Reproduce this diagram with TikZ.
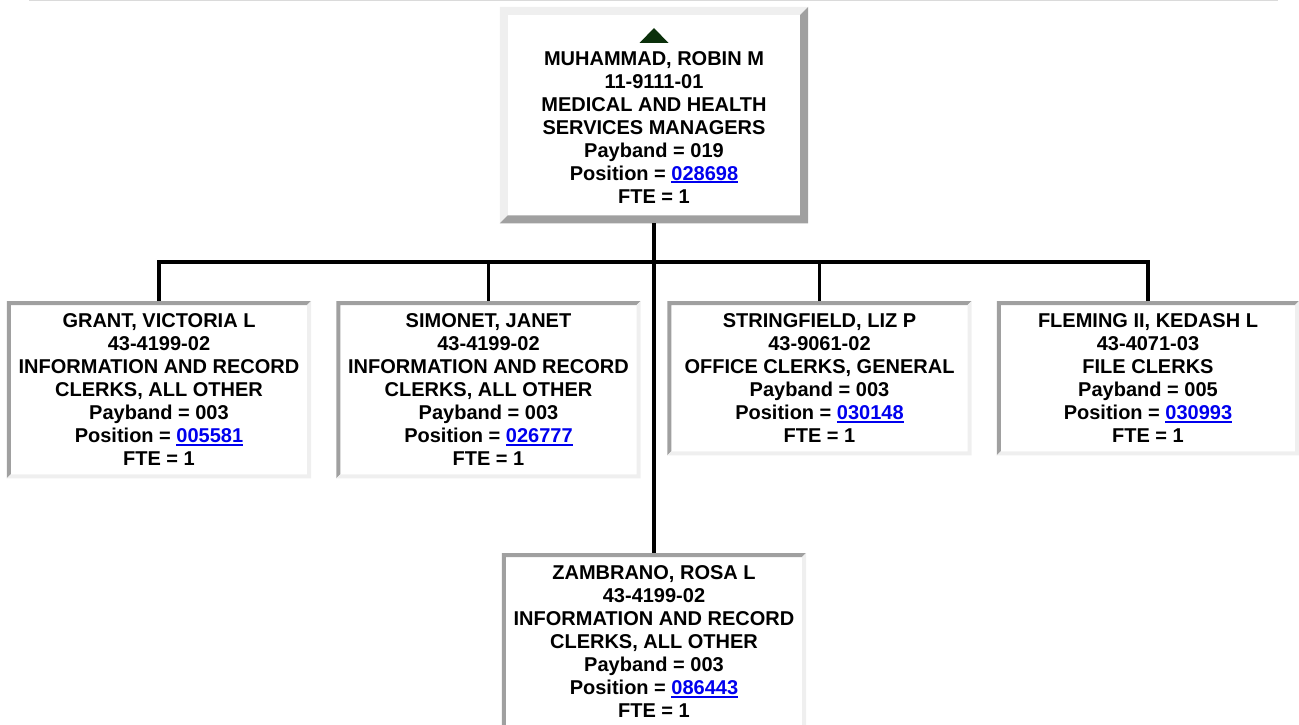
\documentclass[tikz,border=0pt]{standalone}
\usepackage{fontspec}
\setmainfont{Liberation Sans}
\usepackage{xcolor}
\definecolor{cdark}{HTML}{A0A0A0}
\definecolor{clight}{HTML}{EFEFEF}
\definecolor{crule}{HTML}{DADADA}
\definecolor{clink}{HTML}{0000EE}
\definecolor{cup}{HTML}{0B300B}
\newcommand{\cardfont}{\fontsize{20}{23}\selectfont\bfseries}
\newcommand{\posn}[1]{\textcolor{clink}{\setbox0\hbox{#1}\rlap{\rule[-3pt]{\wd0}{2pt}}\box0}}
\newcommand{\bevel}[4]{%
  \fill[#2] (#1.south west) -- (#1.north west) -- (#1.north east)
    -- ([shift={(-#4,-#4)}]#1.north east) -- ([shift={(#4,-#4)}]#1.north west)
    -- ([shift={(#4,#4)}]#1.south west) -- cycle;
  \fill[#3] (#1.south west) -- (#1.south east) -- (#1.north east)
    -- ([shift={(-#4,-#4)}]#1.north east) -- ([shift={(-#4,#4)}]#1.south east)
    -- ([shift={(#4,#4)}]#1.south west) -- cycle;}
\tikzset{
  card/.style={anchor=north, minimum width=304pt, minimum height=177pt, inner sep=0pt, align=center, font=\cardfont},
  wire/.style={line width=3.5pt, black},
  hrule/.style={line width=1.5pt, crule},
}

\begin{document}
\begin{tikzpicture}[x=1pt,y=-1pt]
\useasboundingbox (0,0) rectangle (1299,725);
\draw[hrule] (29,0.75) -- (1278,0.75);
% manager
\node[card, minimum width=308pt, minimum height=216pt] (mgr) at (654,7) {\rule{0pt}{15pt}\\MUHAMMAD, ROBIN M\\11-9111-01\\MEDICAL AND HEALTH\\SERVICES MANAGERS\\Payband = 019\\Position = \posn{028698}\\FTE = 1};
\fill[cup] ([shift={(0,-21pt)}]mgr.north) -- ([shift={(14.5pt,-36pt)}]mgr.north) -- ([shift={(-14.5pt,-36pt)}]mgr.north) -- cycle;
% staff
\node[card] (grant) at (159,301) {GRANT, VICTORIA L\\43-4199-02\\INFORMATION AND RECORD\\CLERKS, ALL OTHER\\Payband = 003\\Position = \posn{005581}\\FTE = 1};
\node[card] (simonet) at (488.5,301) {SIMONET, JANET\\43-4199-02\\INFORMATION AND RECORD\\CLERKS, ALL OTHER\\Payband = 003\\Position = \posn{026777}\\FTE = 1};
\node[card, minimum height=154pt] (stringfield) at (819.5,301) {STRINGFIELD, LIZ P\\43-9061-02\\OFFICE CLERKS, GENERAL\\Payband = 003\\Position = \posn{030148}\\FTE = 1};
\node[card, minimum width=302pt, minimum height=154pt] (fleming) at (1148,301) {FLEMING II, KEDASH L\\43-4071-03\\FILE CLERKS\\Payband = 005\\Position = \posn{030993}\\FTE = 1};
\node[card] (zambrano) at (654,553) {ZAMBRANO, ROSA L\\43-4199-02\\INFORMATION AND RECORD\\CLERKS, ALL OTHER\\Payband = 003\\Position = \posn{086443}\\FTE = 1};
% borders
\bevel{mgr}{clight}{cdark}{8pt}
\foreach \c in {grant,simonet,stringfield,fleming,zambrano} {\bevel{\c}{cdark}{clight}{4pt}}
% lines
\coordinate (bus) at (654,262);
\draw[wire] (mgr.south) -- (zambrano.north);
\foreach \c in {grant,simonet,stringfield,fleming} \draw[wire] (\c.north) |- (bus);
\end{tikzpicture}
\end{document}
